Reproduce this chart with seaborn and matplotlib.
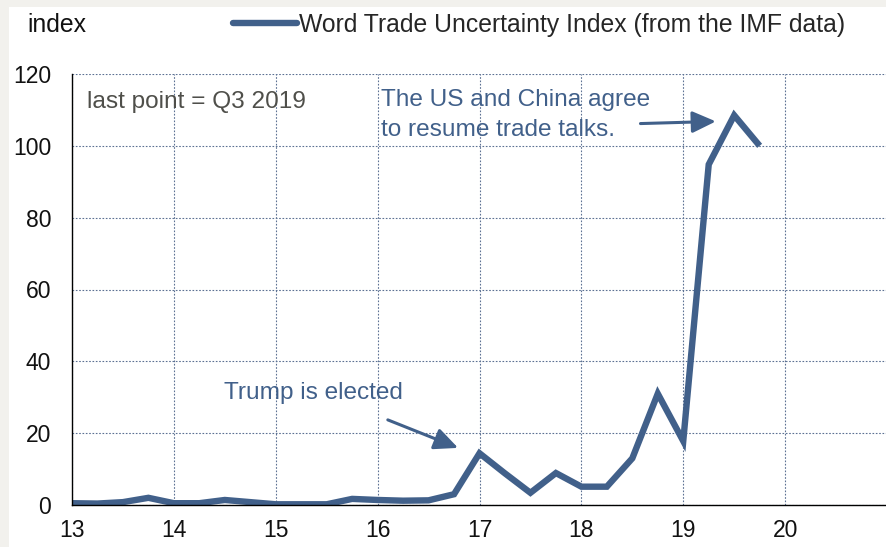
import numpy as np
import pandas as pd
import seaborn as sns
import matplotlib.pyplot as plt
from matplotlib.patches import Rectangle

# World Trade Uncertainty Index, quarterly, last point = Q3 2019
wtui = [0.5, 0.4, 0.8, 2.0, 0.5, 0.5, 1.4, 0.8,
        0.2, 0.2, 0.2, 1.7, 1.4, 1.2, 1.3, 3.0,
        14.4, 8.8, 3.4, 8.9, 5.1, 5.1, 13.0, 31.0,
        17.8, 94.8, 108.5, 100.0]
first_year = 13
year_ticks = [13, 14, 15, 16, 17, 18, 19, 20]
y_ticks = [0, 20, 40, 60, 80, 100, 120]
series_name = "Word Trade Uncertainty Index (from the IMF data)"

LINE = "#41608a"
GRID = "#5c7193"

df = pd.DataFrame({
    "year": first_year + np.arange(len(wtui)) * 0.25,
    "value": wtui,
    "series": series_name,
})

sns.set_theme(style="white")
plt.rcParams["font.family"] = ["Liberation Sans", "DejaVu Sans"]

fig = plt.figure(figsize=(8.87, 5.47), dpi=100)
fig.patch.set_facecolor("#f2f1ed")
fig.patches.append(Rectangle((9 / 887, 0), 1, 1 - 7 / 547, transform=fig.transFigure,
                             facecolor="white", edgecolor="none", zorder=-10))

ax = fig.add_axes([72 / 887, 1 - 505 / 547, 1 - 72 / 887, (505 - 74) / 547])
ax.set_facecolor("none")

sns.lineplot(data=df, x="year", y="value", hue="series", palette=[LINE],
             linewidth=4.6, ax=ax, legend=True, solid_joinstyle="miter",
             solid_capstyle="butt")

ax.set_xlim(13, 21)
ax.set_ylim(0, 120)
ax.set_xticks(year_ticks)
ax.set_yticks(y_ticks)
ax.set_xlabel("")
ax.set_ylabel("")

ax.grid(True, color=GRID, linestyle=(0, (1.5, 1.5)), linewidth=0.8)
for side in ("top", "right"):
    ax.spines[side].set_visible(False)
for side in ("left", "bottom"):
    ax.spines[side].set_color("black")
    ax.spines[side].set_linewidth(1.0)

ax.tick_params(axis="both", labelsize=16.5, colors="#111111", length=5,
               width=1, direction="out")
ax.tick_params(axis="x", color="#888888", pad=5)
ax.tick_params(axis="y", color="#555555", pad=10)

# legend and unit label above the plot area
handles, labels = ax.get_legend_handles_labels()
for h in handles:
    h.set_solid_capstyle("round")
ax.legend(handles, labels, loc="center left", frameon=False,
          bbox_to_anchor=(233 / 887, 1 - 25 / 547), bbox_transform=fig.transFigure,
          borderpad=0, borderaxespad=0, handlelength=2.6, handletextpad=0.05,
          prop={"size": 17.8})
fig.text(27 / 887, 1 - 25 / 547, "index", fontsize=17.8, va="center", ha="left",
         color="#111111")

ax.text(13.15, 112.1, "last point = Q3 2019", fontsize=17.6, color="#4f4f4a",
        va="center", ha="left")

arrow_style = dict(arrowstyle="-|>,head_length=1.2,head_width=0.55",
                   color=LINE, lw=2.2, shrinkA=0, shrinkB=0)

ax.text(16.03, 108.6, "The US and China agree\nto resume trade talks.",
        fontsize=17.6, color=LINE, va="center", ha="left", linespacing=1.45)
ax.annotate("", xy=(19.32, 106.8), xytext=(18.58, 106.2), arrowprops=arrow_style)

ax.text(14.49, 31.2, "Trump is elected", fontsize=17.6, color=LINE,
        va="center", ha="left")
ax.annotate("", xy=(16.79, 15.9), xytext=(16.10, 23.7), arrowprops=arrow_style)

fig.savefig("out.png", dpi=100, facecolor=fig.get_facecolor())
